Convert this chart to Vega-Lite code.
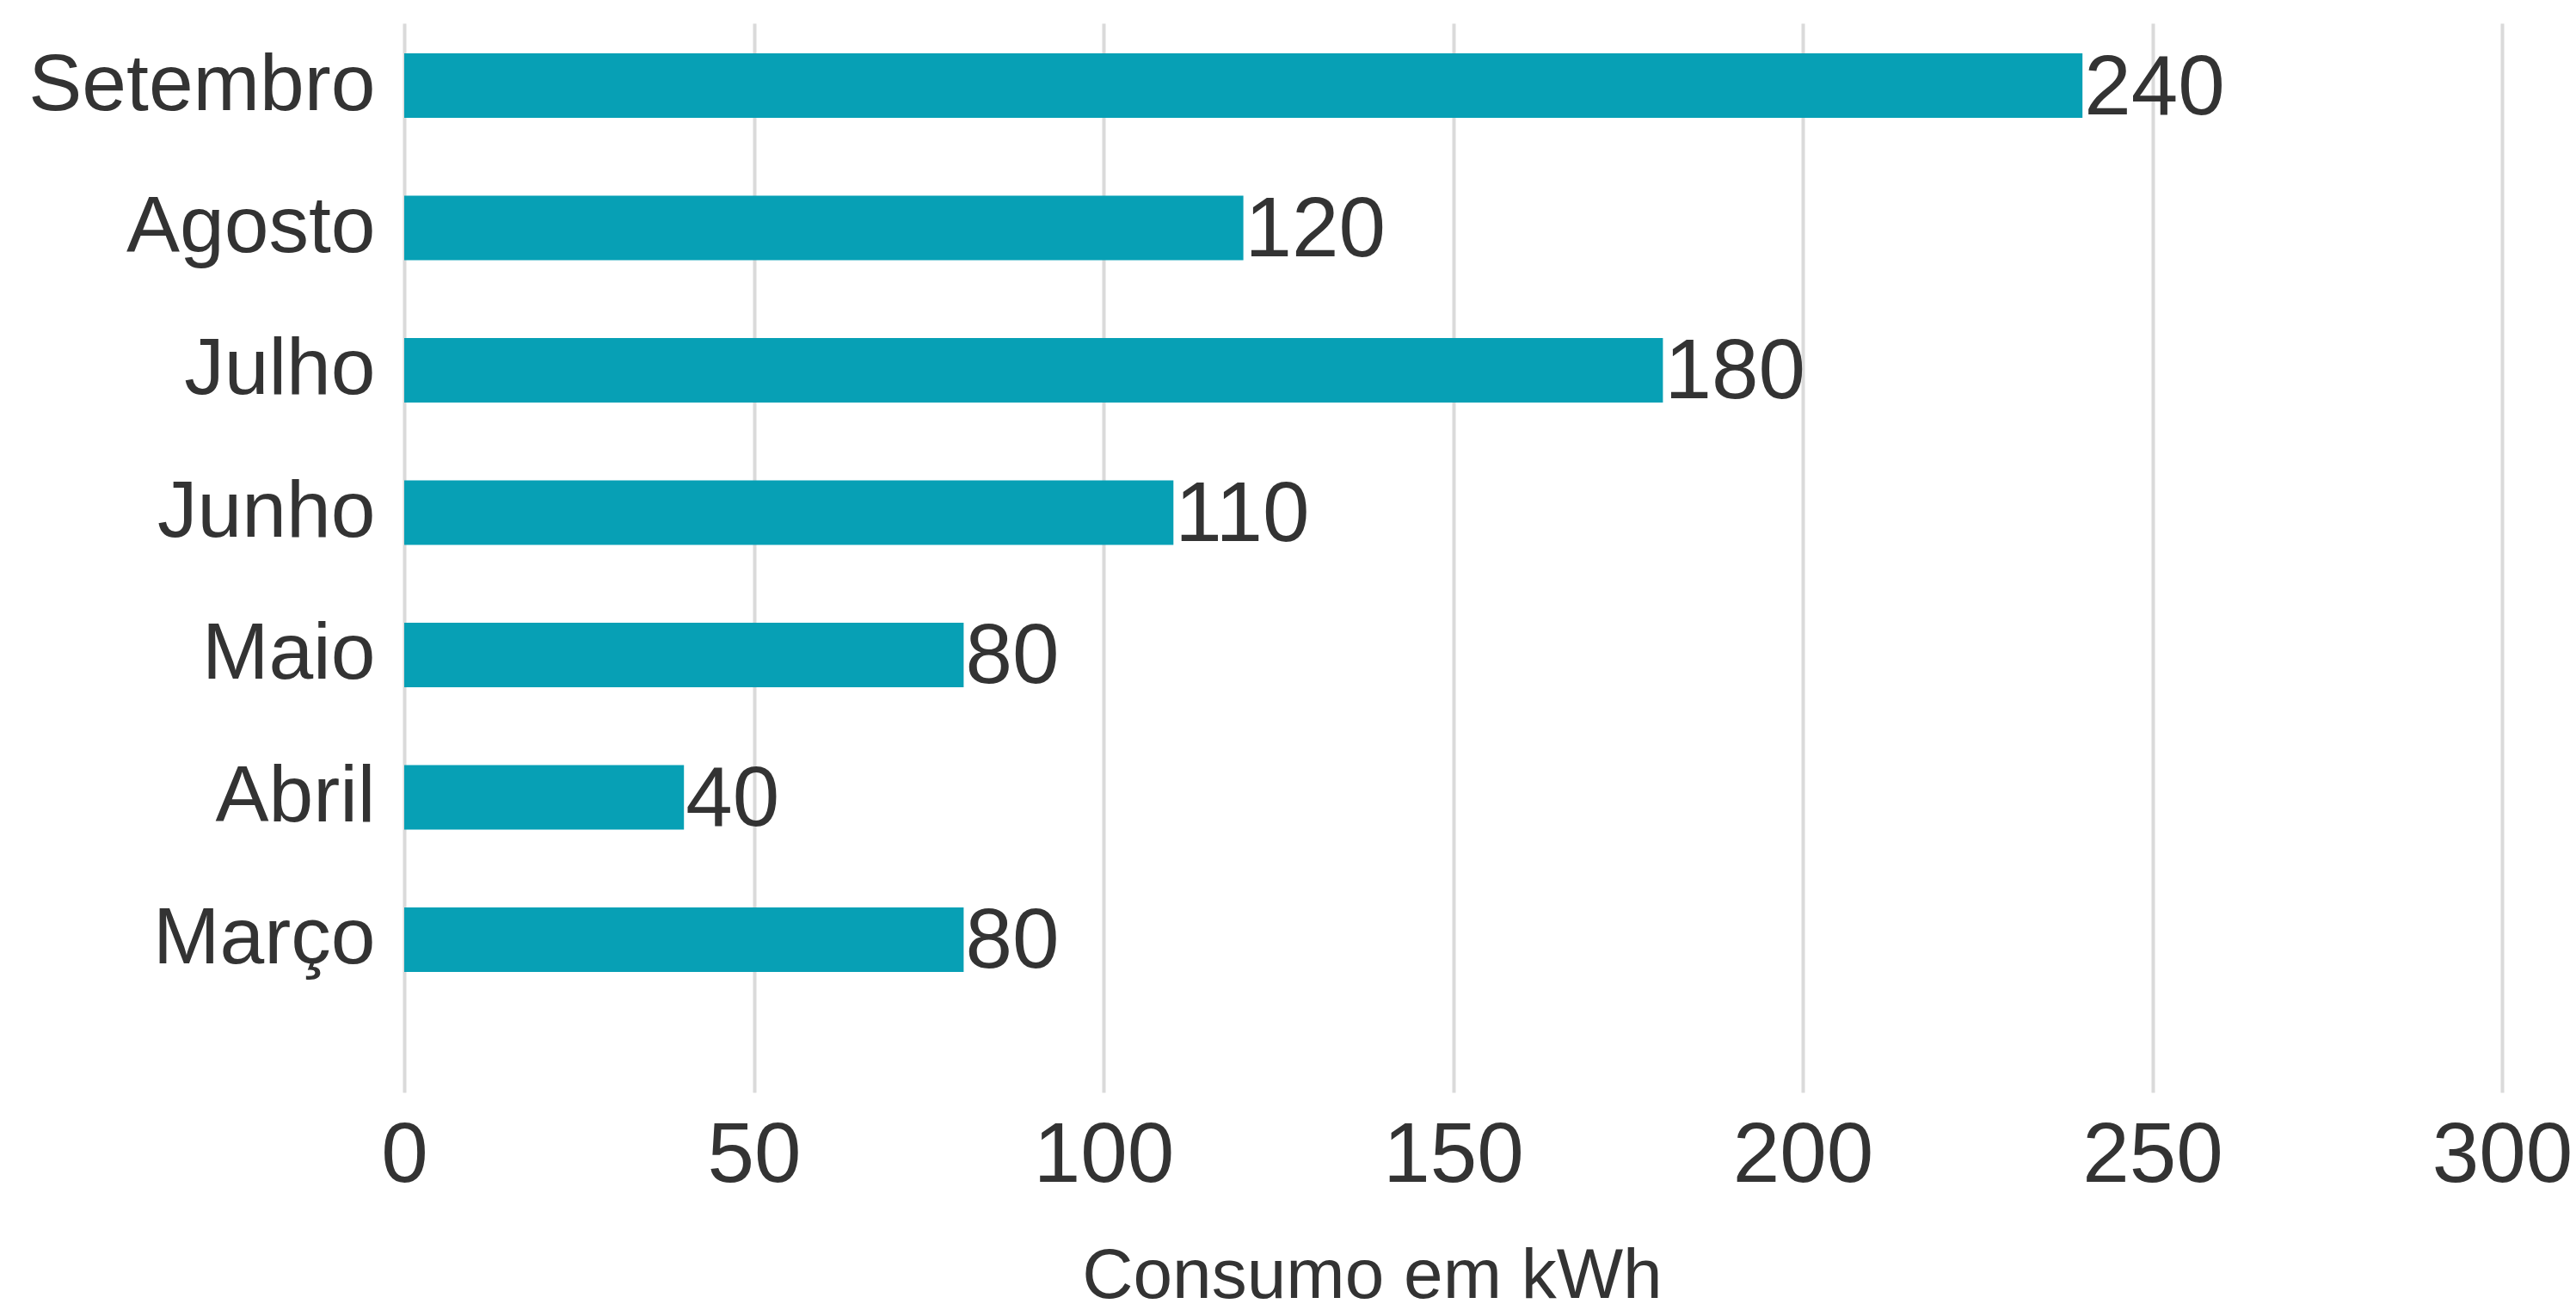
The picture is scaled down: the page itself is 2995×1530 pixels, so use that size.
{
  "$schema": "https://vega.github.io/schema/vega-lite/v6.json",
  "autosize": {"type": "none"},
  "width": 2439,
  "height": 1243,
  "padding": {"left": 470, "top": 27, "right": 86, "bottom": 260},
  "background": "white",
  "data": {
    "values": [
      {"mes": "Setembro", "consumo": 240},
      {"mes": "Agosto", "consumo": 120},
      {"mes": "Julho", "consumo": 180},
      {"mes": "Junho", "consumo": 110},
      {"mes": "Maio", "consumo": 80},
      {"mes": "Abril", "consumo": 40},
      {"mes": "Março", "consumo": 80}
    ]
  },
  "config": {
    "view": {"stroke": null},
    "font": "Liberation Sans"
  },
  "encoding": {
    "y": {
      "field": "mes",
      "type": "nominal",
      "sort": ["Setembro", "Agosto", "Julho", "Junho", "Maio", "Abril", "Março"],
      "scale": {"paddingInner": 0.547, "paddingOuter": 0.529, "align": 0.2},
      "axis": {
        "title": null,
        "domain": false,
        "ticks": false,
        "labelFont": "Liberation Sans",
        "labelFontSize": 93,
        "labelColor": "#333333",
        "labelPadding": 34,
        "labelLimit": 0
      }
    },
    "x": {
      "field": "consumo",
      "type": "quantitative",
      "scale": {"domain": [0, 300], "nice": false},
      "axis": {
        "values": [0, 50, 100, 150, 200, 250, 300],
        "title": "Consumo em kWh",
        "titleFont": "Liberation Sans",
        "titleFontSize": 82,
        "titleFontWeight": "normal",
        "titleColor": "#333333",
        "titleX": 1125,
        "titleY": 238,
        "titleBaseline": "alphabetic",
        "domain": false,
        "ticks": false,
        "grid": true,
        "gridColor": "#dadada",
        "gridWidth": 4,
        "labelFont": "Liberation Sans",
        "labelFontSize": 98,
        "labelColor": "#333333",
        "labelPadding": 26,
        "labelBaseline": "top",
        "labelFlush": false
      }
    }
  },
  "layer": [
    {"mark": {"type": "bar", "color": "#07a0b5"}},
    {
      "mark": {"type": "text", "align": "left", "baseline": "middle", "dx": 2, "dy": 4, "fontSize": 98, "font": "Liberation Sans", "color": "#333333"},
      "encoding": {"text": {"field": "consumo", "type": "quantitative"}}
    }
  ]
}
